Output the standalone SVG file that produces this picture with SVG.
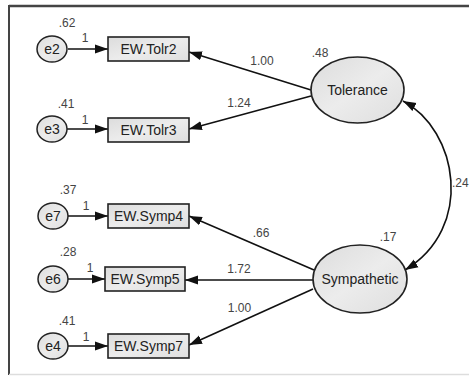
<svg xmlns="http://www.w3.org/2000/svg" width="469" height="376" viewBox="0 0 469 376">
<defs>
<linearGradient id="g" x1="0" y1="0" x2="1" y2="1">
<stop offset="0" stop-color="#dcdcdc"/>
<stop offset="0.5" stop-color="#ececec"/>
<stop offset="1" stop-color="#dedede"/>
</linearGradient>
<marker id="ah" markerUnits="userSpaceOnUse" markerWidth="14" markerHeight="10" refX="13" refY="4.5" orient="auto-start-reverse" viewBox="0 0 14 9">
<path d="M0,0 L13,4.5 L0,9 z" fill="#111"/>
</marker>
</defs>
<style>
.box{fill:url(#g);stroke:#222;stroke-width:1.6}
.lat{fill:url(#g);stroke:#222;stroke-width:1.6}
.err{fill:url(#g);stroke:#222;stroke-width:1.5}
.lbl{font-family:"Liberation Sans",Arial,sans-serif;font-size:14px;fill:#222;text-anchor:middle}
.num{font-family:"Liberation Sans",Arial,sans-serif;font-size:12px;fill:#444;text-anchor:middle}
.con{stroke:#111;stroke-width:1.6;fill:none;marker-end:url(#ah)}
</style>
<rect width="469" height="376" fill="#fff"/>
<line x1="9" y1="6" x2="469" y2="6" stroke="#444" stroke-width="2.5"/>
<line x1="9" y1="5" x2="9" y2="375" stroke="#444" stroke-width="2"/>
<line x1="9" y1="374.5" x2="469" y2="374.5" stroke="#ddd" stroke-width="1.5"/>

<g id="connectors">
<line class="con" x1="68" y1="49" x2="108" y2="49"/>
<line class="con" x1="67" y1="129" x2="108" y2="129"/>
<line class="con" x1="68" y1="216" x2="108" y2="216"/>
<line class="con" x1="68" y1="279" x2="105" y2="279"/>
<line class="con" x1="68" y1="346" x2="108" y2="346"/>
<line class="con" x1="311" y1="90" x2="189" y2="52"/>
<line class="con" x1="311" y1="96" x2="189" y2="129"/>
<line class="con" x1="314" y1="270" x2="189" y2="216"/>
<line class="con" x1="313" y1="280" x2="185" y2="280"/>
<line class="con" x1="313" y1="289" x2="189" y2="345"/>
<path class="con" d="M403,101 C458,130 475,228 405,270" marker-start="url(#ah)"/>
</g>

<g id="e2"><ellipse class="err" cx="52" cy="49" rx="15" ry="13"/><text class="lbl" x="52" y="54">e2</text></g>
<g id="e3"><ellipse class="err" cx="52" cy="129" rx="15" ry="13"/><text class="lbl" x="52" y="134">e3</text></g>
<g id="e7"><ellipse class="err" cx="53" cy="216" rx="15" ry="13"/><text class="lbl" x="53" y="221">e7</text></g>
<g id="e6"><ellipse class="err" cx="53" cy="279" rx="15" ry="13"/><text class="lbl" x="53" y="284">e6</text></g>
<g id="e4"><ellipse class="err" cx="53" cy="346" rx="15" ry="13"/><text class="lbl" x="53" y="351">e4</text></g>

<g id="tolr2"><rect class="box" x="108" y="37" width="81" height="24"/><text class="lbl" x="148.5" y="54">EW.Tolr2</text></g>
<g id="tolr3"><rect class="box" x="108" y="118" width="81" height="24"/><text class="lbl" x="148.5" y="135">EW.Tolr3</text></g>
<g id="symp4"><rect class="box" x="108" y="204" width="81" height="24"/><text class="lbl" x="148.5" y="221">EW.Symp4</text></g>
<g id="symp5"><rect class="box" x="105" y="267" width="80" height="24"/><text class="lbl" x="145" y="284">EW.Symp5</text></g>
<g id="symp7"><rect class="box" x="108" y="334" width="81" height="24"/><text class="lbl" x="148.5" y="351">EW.Symp7</text></g>

<g id="tolerance"><ellipse class="lat" cx="357.5" cy="90" rx="46.5" ry="33"/><text class="lbl" x="357.5" y="95">Tolerance</text></g>
<g id="sympathetic"><ellipse class="lat" cx="360" cy="279" rx="47" ry="34"/><text class="lbl" x="360" y="284">Sympathetic</text></g>

<g id="labels">
<text class="num" x="67" y="27">.62</text>
<text class="num" x="85" y="42">1</text>
<text class="num" x="66" y="108">.41</text>
<text class="num" x="85" y="124">1</text>
<text class="num" x="68" y="194">.37</text>
<text class="num" x="86" y="210">1</text>
<text class="num" x="68" y="256">.28</text>
<text class="num" x="90" y="272">1</text>
<text class="num" x="67" y="325">.41</text>
<text class="num" x="86" y="341">1</text>
<text class="num" x="262" y="65">1.00</text>
<text class="num" x="239" y="107">1.24</text>
<text class="num" x="320" y="57">.48</text>
<text class="num" x="261" y="237">.66</text>
<text class="num" x="239" y="273">1.72</text>
<text class="num" x="239.5" y="312">1.00</text>
<text class="num" x="388" y="241">.17</text>
<text class="num" x="452" y="187" style="text-anchor:start">.24</text>
</g>
</svg>
